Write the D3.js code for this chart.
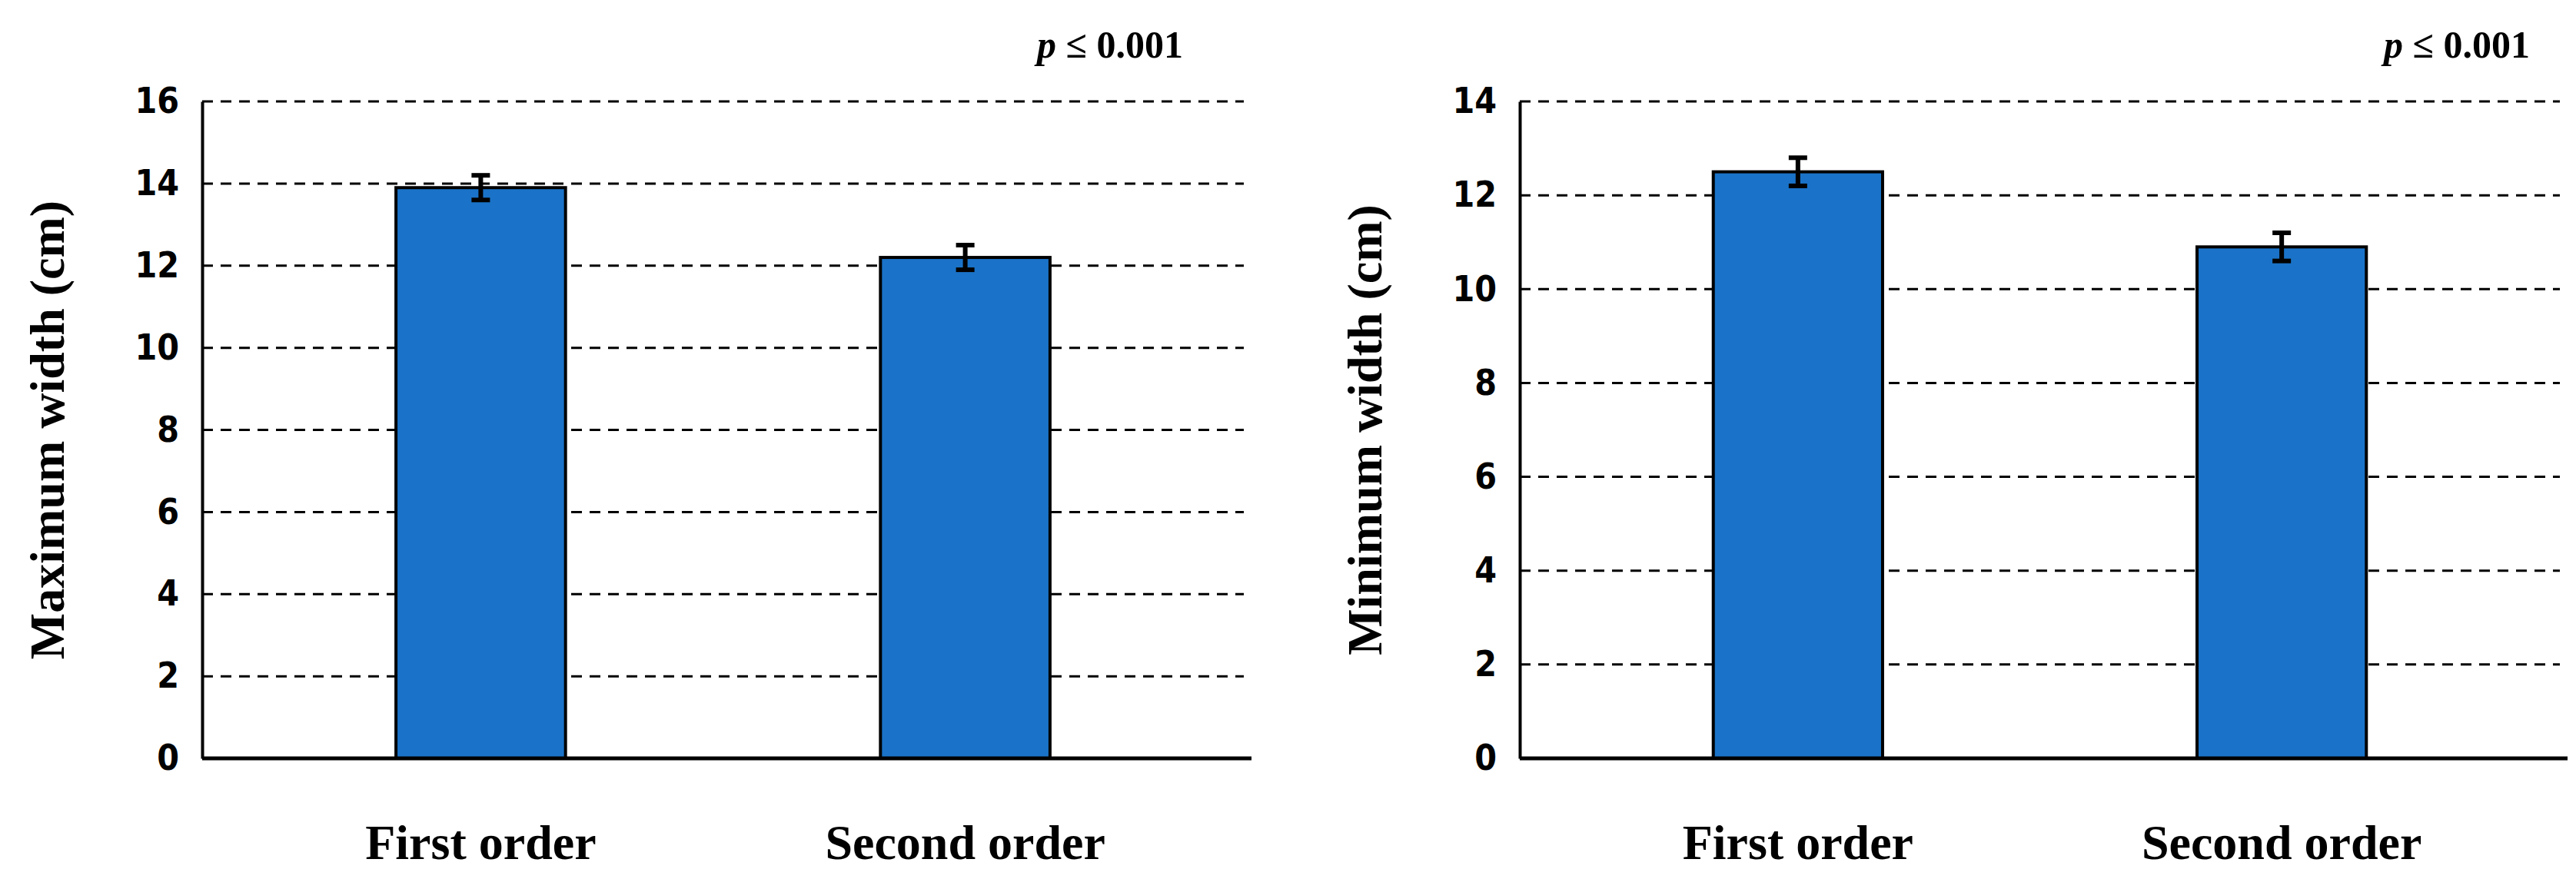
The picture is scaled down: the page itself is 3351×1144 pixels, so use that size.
<!DOCTYPE html><html><head><meta charset="utf-8"><script src="https://cdn.jsdelivr.net/npm/d3@7"></script>
<style>body{margin:0;background:#fff}</style></head><body><svg id="c" width="3351" height="1144"></svg>
<script>
const categories=["First order","Second order"];
const maxWidth=[13.9,12.2], maxErr=[0.3,0.3];
const minWidth=[12.5,10.9], minErr=[0.3,0.3];
const maxTicks=[0,2,4,6,8,10,12,14,16];
const minTicks=[0,2,4,6,8,10,12,14];
const svg=d3.select("#c");
function panel(x0,x1,vals,errs,ticks,ymax,title,pRight){
  const y=d3.scaleLinear().domain([0,ymax]).range([987,132]);
  const x=d3.scaleBand().domain(categories).range([x0,x1]).paddingInner(0.65).paddingOuter(0.4);
  const g=svg.append("g");
  ticks.filter(t=>t>0).forEach(t=>g.append("line").attr("x1",x0).attr("x2",x1).attr("y1",y(t)).attr("y2",y(t)).attr("stroke","#000").attr("stroke-width",3).attr("stroke-dasharray","14,10"));
  categories.forEach((c,i)=>{
    g.append("rect").attr("x",x(c)).attr("width",x.bandwidth()).attr("y",y(vals[i])).attr("height",y(0)-y(vals[i])).attr("fill","#1a73c8").attr("stroke","#000").attr("stroke-width",4);
    const cx=x(c)+x.bandwidth()/2;
    g.append("line").attr("x1",cx).attr("x2",cx).attr("y1",y(vals[i]-errs[i])).attr("y2",y(vals[i]+errs[i])).attr("stroke","#000").attr("stroke-width",6);
    [vals[i]-errs[i],vals[i]+errs[i]].forEach(v=>g.append("line").attr("x1",cx-12).attr("x2",cx+12).attr("y1",y(v)).attr("y2",y(v)).attr("stroke","#000").attr("stroke-width",6));
    g.append("text").attr("x",cx).attr("y",1118).attr("text-anchor","middle").attr("font-family","Liberation Serif").attr("font-weight","bold").attr("font-size",64).text(c);
  });
  const ax=g.append("g").attr("transform",`translate(${x0},0)`).call(d3.axisLeft(y).tickValues(ticks).tickSize(0).tickPadding(30));
  ax.select(".domain").attr("stroke-width",4);
  ax.selectAll("text").attr("font-family","DejaVu Sans Condensed").attr("font-weight","bold").attr("font-size",46);
  g.append("line").attr("x1",x0).attr("x2",x1+10).attr("y1",y(0)).attr("y2",y(0)).attr("stroke","#000").attr("stroke-width",5);
  g.append("text").attr("transform",`translate(${x0-180},${(y(0)+y(ymax))/2}) rotate(-90)`).attr("text-anchor","middle").attr("font-family","Liberation Serif").attr("font-weight","bold").attr("font-size",64).text(title);
  const pt=g.append("text").attr("x",pRight).attr("y",75).attr("text-anchor","end").attr("font-family","Liberation Serif").attr("font-weight","bold").attr("font-size",50);
  pt.append("tspan").attr("font-style","italic").text("p");
  pt.append("tspan").text(" ≤ 0.001");
}
panel(263,1618,maxWidth,maxErr,maxTicks,16,"Maximum width (cm)",1539);
panel(1977,3330,minWidth,minErr,minTicks,14,"Minimum width (cm)",3291);
</script></body></html>
